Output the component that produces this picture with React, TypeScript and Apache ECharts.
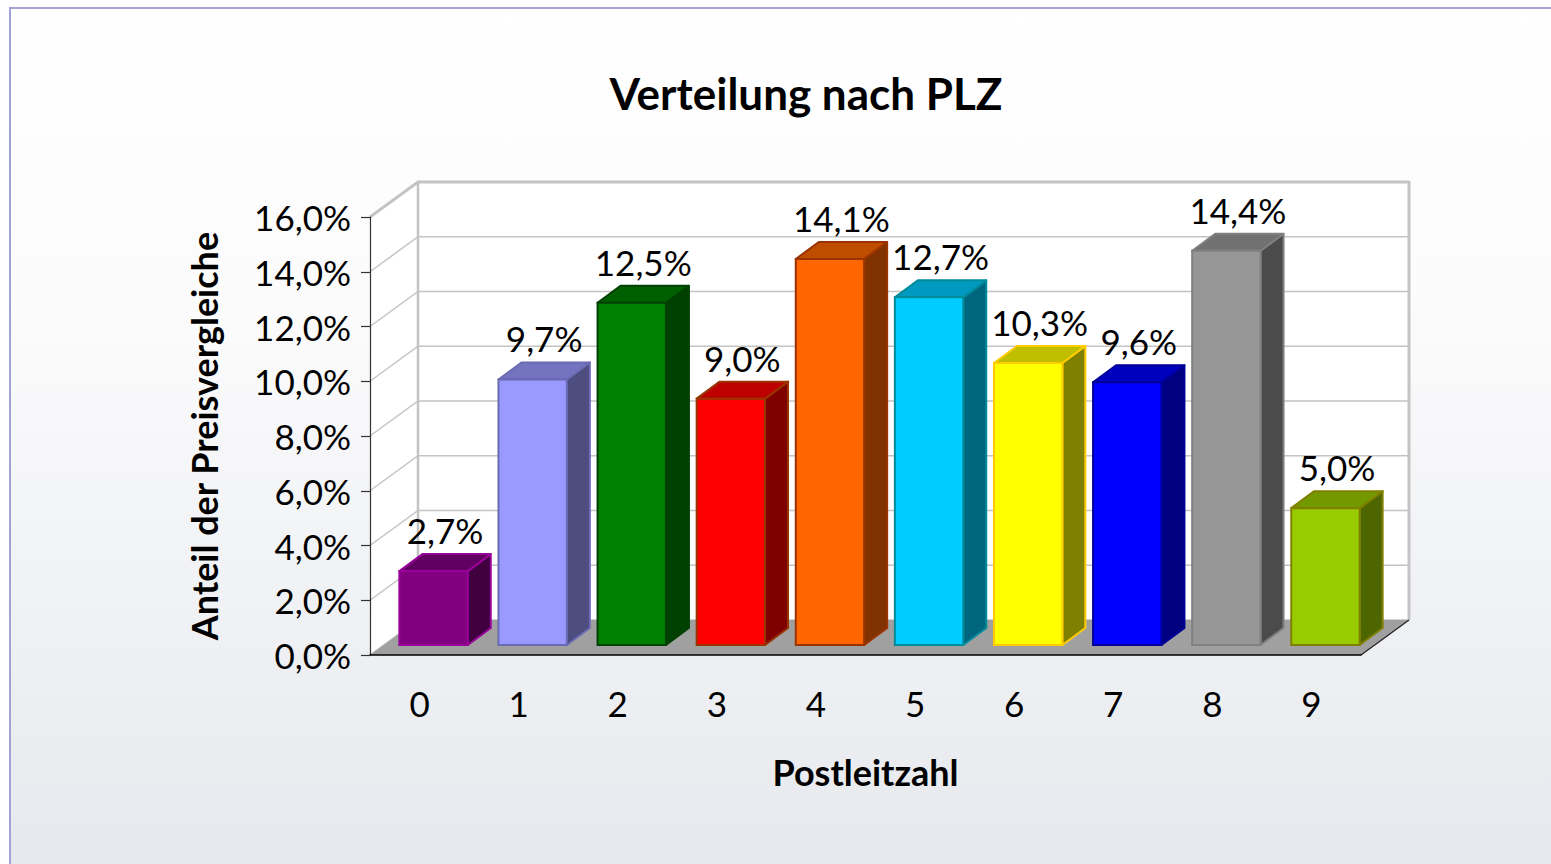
import React, { useEffect, useRef } from "react";
import * as echarts from "echarts";

// ---- data ----
const categories = ["0", "1", "2", "3", "4", "5", "6", "7", "8", "9"];
const shares = [2.7, 9.7, 12.5, 9.0, 14.1, 12.7, 10.3, 9.6, 14.4, 5.0];
const yTicks = [0, 2, 4, 6, 8, 10, 12, 14, 16];
const titleText = "Verteilung nach PLZ";
const xName = "Postleitzahl";
const yName = "Anteil der Preisvergleiche";

// ---- styles ----
const FRONT = ["#800080", "#9999ff", "#008000", "#ff0000", "#ff6600", "#00ccff", "#ffff00", "#0000ff", "#969696", "#99cc00"];
const BORDER = ["#990099", "#6b6bb3", "#004000", "#993300", "#993300", "#008b9b", "#ffcc00", "#000099", "#808080", "#808000"];
const FONT = "Lato, 'Open Sans', sans-serif";

const WALL_DX = 48;
const WALL_DY = -35;
const BAR_SHIFT_DX = 14;
const BAR_SHIFT_DY = -10;
const BAR_DDX = 23;
const BAR_DDY = -17;
const BAR_RATIO = 0.69;

function shade(hex: string, f: number) {
  const n = parseInt(hex.slice(1), 16);
  const r = Math.round(((n >> 16) & 255) * f);
  const g = Math.round(((n >> 8) & 255) * f);
  const b = Math.round((n & 255) * f);
  return `rgb(${r},${g},${b})`;
}
const fmt = (v: number) => v.toFixed(1).replace(".", ",") + "%";

export default function App() {
  const ref = useRef<HTMLDivElement>(null);
  useEffect(() => {
    if (!ref.current) return;
    const chart = echarts.init(ref.current, undefined, { renderer: "svg" });
    const yMax = yTicks[yTicks.length - 1];
    const last = categories.length - 1;

    const option: any = {
      animation: false,
      backgroundColor: "#ffffff",
      graphic: [
        {
          type: "rect",
          z: -10,
          shape: { x: 10, y: 8, width: 1600, height: 900 },
          style: {
            fill: new echarts.graphic.LinearGradient(0, 0, 0, 1, [
              { offset: 0, color: "#ffffff" },
              { offset: 0.35, color: "#fbfbfc" },
              { offset: 1, color: "#e4e7ec" },
            ]),
            stroke: "#a3a3d3",
            lineWidth: 2,
          },
        },
      ],
      title: {
        text: titleText,
        left: 801,
        textAlign: "center",
        top: 66,
        textStyle: { fontFamily: FONT, fontWeight: "bold", fontSize: 44, color: "#000" },
      },
      grid: { left: 370, right: 190, top: 217, bottom: 209, containLabel: false },
      xAxis: {
        type: "category",
        data: categories,
        z: 10,
        axisLine: { lineStyle: { color: "#000", width: 1.5 } },
        axisTick: { length: 10, lineStyle: { color: "#000", width: 1.2 } },
        axisLabel: { fontFamily: FONT, fontSize: 35, color: "#000", margin: 30 },
        name: xName,
        nameLocation: "middle",
        nameGap: 99,
        nameTextStyle: { fontFamily: FONT, fontWeight: "bold", fontSize: 36, color: "#000" },
      },
      yAxis: {
        type: "value",
        min: 0,
        max: yMax,
        interval: 2,
        z: 10,
        splitLine: { show: false },
        axisLine: { show: true, lineStyle: { color: "#333", width: 1.2 } },
        axisTick: { show: true, length: 9, lineStyle: { color: "#333", width: 1.2 } },
        axisLabel: { fontFamily: FONT, fontSize: 35, color: "#000", margin: 19, formatter: (v: number) => fmt(v) },
        name: yName,
        nameLocation: "middle",
        nameGap: 148,
        nameTextStyle: { fontFamily: FONT, fontWeight: "bold", fontSize: 36, color: "#000" },
      },
      series: [
        {
          type: "custom",
          z: 1,
          silent: true,
          data: [[0]],
          renderItem: (params: any, api: any) => {
            const bw = api.size([1, 0])[0];
            const xl = api.coord([0, 0])[0] - bw / 2;
            const xr = api.coord([last, 0])[0] + bw / 2;
            const y0 = api.coord([0, 0])[1];
            const yT = api.coord([0, yMax])[1];
            const children: any[] = [];
            children.push({
              type: "polygon",
              shape: { points: [[xl + WALL_DX, yT + WALL_DY], [xr + WALL_DX, yT + WALL_DY], [xr + WALL_DX, y0 + WALL_DY], [xl + WALL_DX, y0 + WALL_DY]] },
              style: { fill: "#ffffff" },
            });
            children.push({
              type: "polygon",
              shape: { points: [[xl, yT], [xl + WALL_DX, yT + WALL_DY], [xl + WALL_DX, y0 + WALL_DY], [xl, y0]] },
              style: { fill: "#ffffff" },
            });
            yTicks.forEach((t) => {
              const y = api.coord([0, t])[1];
              children.push({
                type: "polyline",
                shape: { points: [[xl, y], [xl + WALL_DX, y + WALL_DY], [xr + WALL_DX, y + WALL_DY]] },
                style: { fill: "none", stroke: "#c4c4c4", lineWidth: t === yMax ? 3 : 1.5 },
              });
            });
            children.push({
              type: "line",
              shape: { x1: xl + WALL_DX, y1: yT + WALL_DY, x2: xl + WALL_DX, y2: y0 + WALL_DY },
              style: { stroke: "#c4c4c4", lineWidth: 2.5 },
            });
            children.push({
              type: "line",
              shape: { x1: xr + WALL_DX, y1: yT + WALL_DY - 1, x2: xr + WALL_DX, y2: y0 + WALL_DY },
              style: { stroke: "#c4c4c4", lineWidth: 3 },
            });
            children.push({
              type: "polygon",
              shape: { points: [[xl, y0], [xr, y0], [xr + WALL_DX, y0 + WALL_DY], [xl + WALL_DX, y0 + WALL_DY]] },
              style: { fill: "#a0a0a0" },
            });
            children.push({
              type: "line",
              shape: { x1: xr, y1: y0, x2: xr + WALL_DX, y2: y0 + WALL_DY },
              style: { stroke: "#202020", lineWidth: 1.2 },
            });
            return { type: "group", children };
          },
        },
        {
          type: "custom",
          z: 3,
          data: shares.map((v, i) => [i, v]),
          renderItem: (params: any, api: any) => {
            const i = api.value(0);
            const v = api.value(1);
            const base = api.coord([i, 0]);
            const top = api.coord([i, v]);
            const bw = api.size([1, 0])[0];
            const w = bw * BAR_RATIO;
            const x0 = base[0] - w / 2 + BAR_SHIFT_DX;
            const x1 = x0 + w;
            const yb = base[1] + BAR_SHIFT_DY;
            const yt = top[1] + BAR_SHIFT_DY;
            const col = FRONT[i];
            const bc = BORDER[i];
            const lw = 2;
            return {
              type: "group",
              children: [
                {
                  type: "polygon",
                  shape: { points: [[x1, yt], [x1 + BAR_DDX, yt + BAR_DDY], [x1 + BAR_DDX, yb + BAR_DDY], [x1, yb]] },
                  style: { fill: shade(col, 0.5), stroke: bc, lineWidth: lw, lineJoin: "round" },
                },
                {
                  type: "polygon",
                  shape: { points: [[x0, yt], [x1, yt], [x1 + BAR_DDX, yt + BAR_DDY], [x0 + BAR_DDX, yt + BAR_DDY]] },
                  style: { fill: shade(col, 0.75), stroke: bc, lineWidth: lw, lineJoin: "round" },
                },
                {
                  type: "rect",
                  shape: { x: x0, y: yt, width: w, height: yb - yt },
                  style: { fill: col, stroke: bc, lineWidth: lw },
                },
                {
                  type: "text",
                  style: {
                    x: x0 + w / 2 + BAR_DDX / 2,
                    y: yt + BAR_DDY - 24,
                    text: fmt(v),
                    align: "center",
                    verticalAlign: "middle",
                    fontFamily: FONT,
                    fontSize: 35,
                    fill: "#000",
                  },
                },
              ],
            };
          },
        },
      ],
    };
    chart.setOption(option);
    return () => chart.dispose();
  }, []);
  return <div ref={ref} style={{ position: "absolute", left: 0, top: 0, width: 1551, height: 864 }} />;
}
